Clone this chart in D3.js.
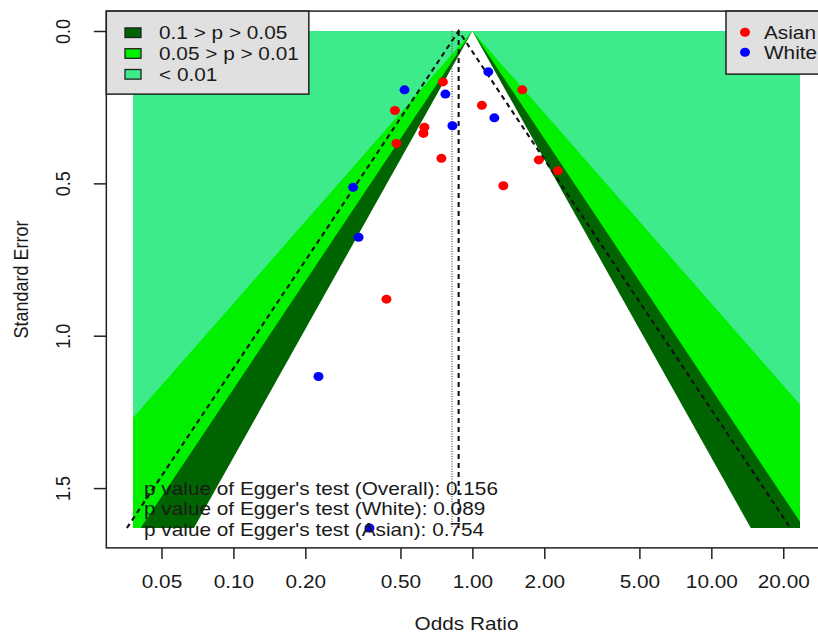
<!DOCTYPE html>
<html>
<head>
<meta charset="utf-8">
<script src="https://cdn.jsdelivr.net/npm/d3@7"></script>
<style>
  body { margin: 0; background: #fff; }
  text { font-family: 'Liberation Sans', Arial, sans-serif; fill: #1a1a1a; }
</style>
</head>
<body>
<div id="chart"></div>
<script>

const asianOR = [0.753, 0.474, 1.096, 1.618, 0.630, 0.624, 0.481, 0.742, 1.897, 2.278, 1.348, 0.437];
const asianSE = [0.167, 0.261, 0.244, 0.193, 0.316, 0.336, 0.369, 0.418, 0.423, 0.459, 0.508, 0.880];

const whiteOR = [0.520, 0.771, 1.166, 1.236, 0.825, 0.317, 0.334, 0.227, 0.371];
const whiteSE = [0.193, 0.207, 0.134, 0.285, 0.311, 0.513, 0.677, 1.134, 1.631];

const xTicks = [0.05, 0.1, 0.2, 0.5, 1, 2, 5, 10, 20];
const yTicks = [0, 0.5, 1.0, 1.5];
const xLimits = [0.038, 23.5];

// z for p = 0.01, 0.05, 0.10 (outer band first)
const zLevels = [2.576, 1.96, 1.645];
const bandColors = ['#00f000', '#006400', '#ffffff'];
const outerColor = '#3deb8a';

const contourLabels = ['0.1 > p > 0.05', '0.05 > p > 0.01', '< 0.01'];
const contourKeyColors = ['#006400', '#00f000', '#3deb8a'];
const groups = ['Asian', 'White'];
const groupColors = ['#ff0000', '#0000ff'];

const pooledOR = 0.876;
const adjustedOR = 0.822;
const eggerLines = [
  "p value of Egger's test (Overall): 0.156",
  "p value of Egger's test (White): 0.089",
  "p value of Egger's test (Asian): 0.754"
];

const width = 818, height = 632;
const stretch = 1.155;   // the source text is a bit wide
const fontSize = 18;

const seMax = d3.max(asianSE.concat(whiteSE));

const x = d3.scaleLog().domain(xLimits).range([133, 800]);
const y = d3.scaleLinear().domain([0, seMax]).range([31, 528]);

// R style 4% padding round the data region
const padX = 0.04 * (x.range()[1] - x.range()[0]);
const padY = 0.04 * (y.range()[1] - y.range()[0]);
const box = {
  left: x.range()[0] - padX,
  right: x.range()[1] + padX,
  top: y.range()[0] - padY,
  bottom: y.range()[1] + padY
};

const svg = d3.select('#chart').append('svg')
  .attr('width', width)
  .attr('height', height);

svg.append('clipPath').attr('id', 'region')
  .append('rect')
  .attr('x', x(xLimits[0]))
  .attr('y', y(0))
  .attr('width', x(xLimits[1]) - x(xLimits[0]))
  .attr('height', y(seMax) - y(0));

// Contour regions
const contours = svg.append('g').attr('clip-path', 'url(#region)');
contours.append('rect')
  .attr('x', x(xLimits[0]))
  .attr('y', y(0))
  .attr('width', x(xLimits[1]) - x(xLimits[0]))
  .attr('height', y(seMax) - y(0))
  .attr('fill', outerColor);

const line = d3.line().x(d => x(d[0])).y(d => y(d[1]));

zLevels.forEach((z, i) => {
  const tri = [[Math.exp(-z * seMax), seMax], [1, 0], [Math.exp(z * seMax), seMax]];
  contours.append('path')
    .attr('d', line(tri) + 'Z')
    .attr('fill', bandColors[i]);
});

// Pooled-estimate funnel and reference lines
const z95 = zLevels[1];
svg.append('path')
  .attr('d', line([[pooledOR * Math.exp(-z95 * seMax), seMax], [pooledOR, 0],
                   [pooledOR * Math.exp(z95 * seMax), seMax]]))
  .attr('fill', 'none')
  .attr('stroke', '#111')
  .attr('stroke-width', 2.1)
  .attr('stroke-dasharray', '5,4');

svg.append('line')
  .attr('x1', x(adjustedOR)).attr('x2', x(adjustedOR))
  .attr('y1', y(0)).attr('y2', y(seMax))
  .attr('stroke', '#666')
  .attr('stroke-width', 1.4)
  .attr('stroke-dasharray', '1,1.5');

svg.append('line')
  .attr('x1', x(pooledOR)).attr('x2', x(pooledOR))
  .attr('y1', y(0)).attr('y2', y(seMax))
  .attr('stroke', '#111')
  .attr('stroke-width', 2.1)
  .attr('stroke-dasharray', '5,4');

// Study points
const studies = [
  { or: asianOR, se: asianSE, color: groupColors[0] },
  { or: whiteOR, se: whiteSE, color: groupColors[1] }
];
for (const s of studies) {
  svg.append('g').selectAll('ellipse')
    .data(d3.range(s.or.length))
    .join('ellipse')
    .attr('cx', i => x(s.or[i]))
    .attr('cy', i => y(s.se[i]))
    .attr('rx', 5)
    .attr('ry', 4.5)
    .attr('fill', s.color);
}

// Egger's test text
svg.append('g').selectAll('text')
  .data(eggerLines)
  .join('text')
  .attr('transform', (d, i) => `translate(144,${494.5 + i * 20.5}) scale(${stretch},1)`)
  .attr('font-size', fontSize)
  .text(d => d);

// Plot box
svg.append('rect')
  .attr('x', box.left)
  .attr('y', box.top)
  .attr('width', box.right - box.left)
  .attr('height', box.bottom - box.top)
  .attr('fill', 'none')
  .attr('stroke', '#222')
  .attr('stroke-width', 1.5);

// X axis
const xAxis = svg.append('g')
  .attr('transform', `translate(0,${box.bottom})`)
  .call(d3.axisBottom(x).tickValues(xTicks).tickFormat(d3.format('.2f')).tickSize(11));
xAxis.select('.domain').remove();
xAxis.selectAll('line').attr('stroke', '#222').attr('stroke-width', 1.5);
xAxis.selectAll('text')
  .attr('y', null).attr('dy', null)
  .attr('transform', `translate(0,40) scale(${stretch},1)`)
  .attr('font-size', fontSize)
  .attr('font-family', null)
  .attr('fill', null);

// Y axis
const yAxis = svg.append('g')
  .attr('transform', `translate(${box.left},0)`)
  .call(d3.axisLeft(y).tickValues(yTicks).tickFormat(d3.format('.1f')).tickSize(12.5));
yAxis.select('.domain').remove();
yAxis.selectAll('line').attr('stroke', '#222').attr('stroke-width', 1.5);
yAxis.selectAll('text')
  .attr('x', null).attr('dy', null)
  .attr('text-anchor', 'middle')
  .attr('transform', `translate(-36,0) rotate(-90) scale(1,${stretch})`)
  .attr('font-size', fontSize)
  .attr('font-family', null)
  .attr('fill', null);

// Axis titles
svg.append('text')
  .attr('transform', `translate(${(box.left + box.right) / 2},629.5) scale(${stretch},1)`)
  .attr('text-anchor', 'middle')
  .attr('font-size', fontSize)
  .text('Odds Ratio');

svg.append('text')
  .attr('transform', `translate(27.5,${(box.top + box.bottom) / 2}) rotate(-90) scale(1,${stretch})`)
  .attr('text-anchor', 'middle')
  .attr('font-size', fontSize)
  .text('Standard Error');

// Contour legend (top left)
const legL = svg.append('g');
legL.append('rect')
  .attr('x', box.left).attr('y', box.top)
  .attr('width', 202.5).attr('height', 83)
  .attr('fill', '#e0e0e0')
  .attr('stroke', '#222')
  .attr('stroke-width', 1.5);
contourLabels.forEach((lab, i) => {
  const cy = 32.7 + i * 20.8;
  legL.append('rect')
    .attr('x', 125).attr('y', cy - 4.8)
    .attr('width', 16).attr('height', 9.6)
    .attr('fill', contourKeyColors[i])
    .attr('stroke', '#222')
    .attr('stroke-width', 1.3);
  legL.append('text')
    .attr('transform', `translate(159,${cy + 6.4}) scale(${stretch},1)`)
    .attr('font-size', fontSize)
    .text(lab);
});

// Group legend (top right)
const legR = svg.append('g');
legR.append('rect')
  .attr('x', 726).attr('y', box.top)
  .attr('width', 110).attr('height', 63)
  .attr('fill', '#e0e0e0')
  .attr('stroke', '#222')
  .attr('stroke-width', 1.5);
groups.forEach((g, i) => {
  const cy = 32.3 + i * 20;
  legR.append('ellipse')
    .attr('cx', 745).attr('cy', cy)
    .attr('rx', 5).attr('ry', 4.5)
    .attr('fill', groupColors[i]);
  legR.append('text')
    .attr('transform', `translate(764,${cy + 6.4}) scale(${stretch},1)`)
    .attr('font-size', fontSize)
    .text(g);
});

</script>
</body>
</html>
